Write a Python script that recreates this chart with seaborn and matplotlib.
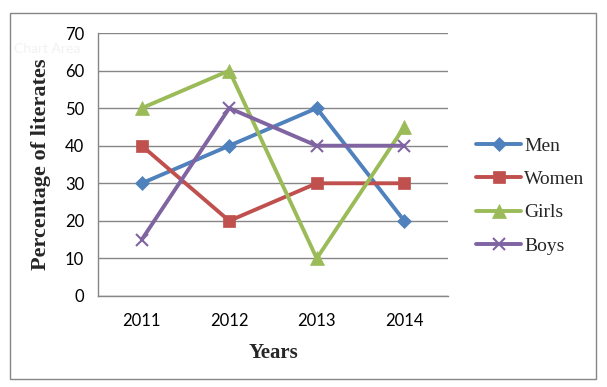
import matplotlib
matplotlib.use("Agg")
import matplotlib.pyplot as plt
import numpy as np
import pandas as pd
import seaborn as sns
from matplotlib.patches import Rectangle

years = ["2011", "2012", "2013", "2014"]
men = [30, 40, 50, 20]
women = [40, 20, 30, 30]
girls = [50, 60, 10, 45]
boys = [15, 50, 40, 40]

series_names = ["Men", "Women", "Girls", "Boys"]
series_colors = {"Men": "#4F81BD", "Women": "#C0504D", "Girls": "#9BBB59", "Boys": "#8064A2"}
series_markers = {"Men": "D", "Women": "s", "Girls": "^", "Boys": "x"}
marker_sizes = {"Men": 7, "Women": 9, "Girls": 10, "Boys": 9}


def build_frame():
    rows = []
    for name, vals in zip(series_names, [men, women, girls, boys]):
        for i, v in enumerate(vals):
            rows.append({"pos": i, "Year": years[i], "value": v, "series": name})
    return pd.DataFrame(rows)


def main():
    sns.set_theme(style="white")
    plt.rcParams["font.family"] = ["Lato", "DejaVu Sans"]

    df = build_frame()

    fig = plt.figure(figsize=(6.07, 3.87), dpi=100)
    ax = fig.add_axes([98 / 607, 1 - 296 / 387, 350 / 607, 263 / 387])

    # chart area border
    fig.patches.append(Rectangle((10 / 607, 1 - 379 / 387), 586 / 607, 366 / 387,
                                 transform=fig.transFigure, fill=False,
                                 edgecolor="#868686", linewidth=1))
    fig.text(14 / 607, 1 - 49 / 387, "Chart Area", fontsize=10, color="#f2f2f2",
             va="center", ha="left")

    for name in series_names:
        sub = df[df["series"] == name]
        sns.lineplot(data=sub, x="pos", y="value", ax=ax, color=series_colors[name],
                     linewidth=2.8, marker=series_markers[name],
                     markersize=marker_sizes[name],
                     markeredgecolor=series_colors[name],
                     markeredgewidth=1.5 if name == "Boys" else 0.5,
                     label=name)

    ax.set_xlim(-0.5, 3.5)
    ax.set_ylim(0, 70)
    ax.set_yticks(np.arange(0, 71, 10))
    ax.set_xticks(range(len(years)))
    ax.set_xticklabels(years)
    ax.tick_params(axis="both", labelsize=12, length=0, colors="black")
    ax.tick_params(axis="x", pad=12)
    ax.tick_params(axis="y", pad=10)
    ax.yaxis.grid(True, color="#868686", linewidth=1)
    ax.set_axisbelow(True)
    for side in ["top", "right"]:
        ax.spines[side].set_visible(False)
    for side in ["left", "bottom"]:
        ax.spines[side].set_color("#868686")
        ax.spines[side].set_linewidth(1)

    ax.set_xlabel("Years", family="Liberation Serif", fontweight="bold",
                  fontsize=15, labelpad=10)
    ax.set_ylabel("Percentage of literates", family="Liberation Serif",
                  fontweight="bold", fontsize=16, labelpad=10)

    ax.legend(loc="center left", bbox_to_anchor=(459 / 607, 1 - 196 / 387),
              bbox_transform=fig.transFigure, frameon=False,
              prop={"family": "Liberation Serif", "size": 14},
              handlelength=2.3, handletextpad=0.15, labelspacing=0.8)

    fig.savefig("out.png", dpi=100)


if __name__ == "__main__":
    main()
